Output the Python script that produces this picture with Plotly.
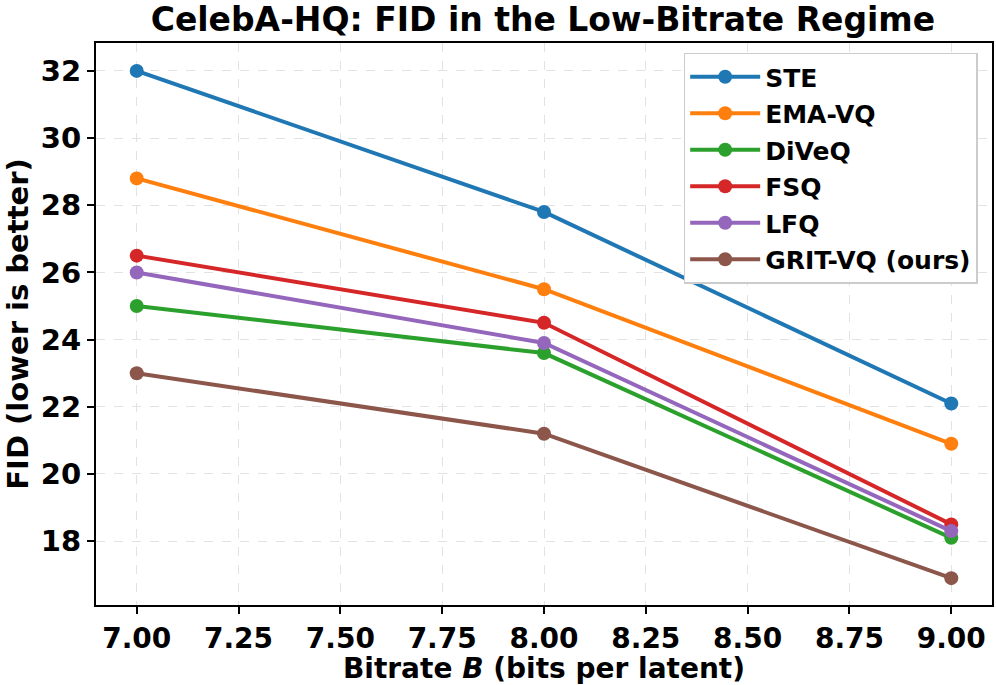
import plotly.graph_objects as go

bitrates = [7.0, 8.0, 9.0]
series_names = ["STE", "EMA-VQ", "DiVeQ", "FSQ", "LFQ", "GRIT-VQ (ours)"]
ste = [32.0, 27.8, 22.1]
ema_vq = [28.8, 25.5, 20.9]
diveq = [25.0, 23.6, 18.1]
fsq = [26.5, 24.5, 18.5]
lfq = [26.0, 23.9, 18.3]
grit_vq = [23.0, 21.2, 16.9]
colors = ["#1f77b4", "#ff7f0e", "#2ca02c", "#d62728", "#9467bd", "#8c564b"]
x_ticks = [7.0, 7.25, 7.5, 7.75, 8.0, 8.25, 8.5, 8.75, 9.0]
y_ticks = [18, 20, 22, 24, 26, 28, 30, 32]

all_series = [ste, ema_vq, diveq, fsq, lfq, grit_vq]

fig = go.Figure()
for name, vals, c in zip(series_names, all_series, colors):
    fig.add_trace(go.Scatter(
        x=bitrates, y=vals, name=f"<b>{name}</b>", mode="lines+markers",
        legendgroup=name,
        line=dict(color=c, width=4), marker=dict(color=c, size=14),
    ))

font = "DejaVu Sans"
fig.update_layout(
    width=996, height=685,
    margin=dict(l=96, r=4, t=43, b=80),
    paper_bgcolor="white", plot_bgcolor="white",
    font=dict(family=font, color="black"),
    title=dict(text="<b>CelebA-HQ: FID in the Low-Bitrate Regime</b>",
               x=0.5451, xanchor="center", y=0.972, yanchor="middle",
               font=dict(size=33, family=font, color="black")),
    legend=dict(x=0.984, y=0.983, xanchor="right", yanchor="top",
                bgcolor="white", bordercolor="#cccccc", borderwidth=1.5,
                font=dict(size=25, family=font, color="black"),
                tracegroupgap=1, itemwidth=70),
    showlegend=True,
)
fig.update_xaxes(
    range=[6.9, 9.1], tickvals=x_ticks,
    ticktext=[f"<b>{v:.2f}</b>" for v in x_ticks],
    tickfont=dict(size=28, family=font, color="black"),
    ticks="outside", ticklen=7, tickwidth=2, tickcolor="black",
    showline=True, linecolor="black", linewidth=2, mirror=True,
    showgrid=True, gridcolor="#e2e2e2", griddash="dash", gridwidth=1.2,
    zeroline=False, automargin=False,
    title=dict(text="<b>Bitrate <i>B</i> (bits per latent)</b>",
               font=dict(size=28, family=font, color="black"), standoff=6),
)
fig.update_yaxes(
    range=[16.1, 32.83], tickvals=y_ticks,
    ticktext=[f"<b>{v}</b>" for v in y_ticks],
    tickfont=dict(size=29, family=font, color="black"),
    ticks="outside", ticklen=7, tickwidth=2, tickcolor="black",
    showline=True, linecolor="black", linewidth=2, mirror=True,
    showgrid=True, gridcolor="#e2e2e2", griddash="dash", gridwidth=1.2,
    zeroline=False, automargin=False,
    title=dict(text="<b>FID (lower is better)</b>",
               font=dict(size=29, family=font, color="black"), standoff=4),
)

fig.write_html("out.html", config={"displayModeBar": False},
               post_script="document.body.style.margin='0';")
